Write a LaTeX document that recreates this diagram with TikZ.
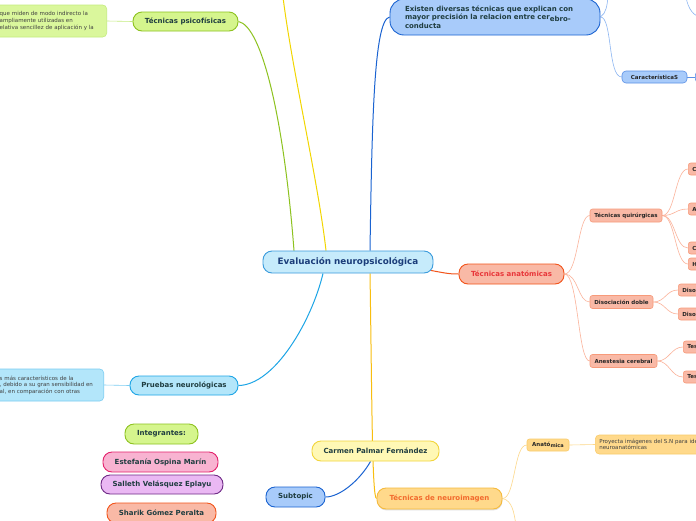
\documentclass[tikz,border=0pt]{standalone}
\usepackage{fontspec}
\setmainfont{DejaVu Sans}
\usetikzlibrary{shadows,backgrounds}
\definecolor{txt}{HTML}{1F3D40}
\definecolor{cenfill}{HTML}{C6EBFB}
\definecolor{cenline}{HTML}{3A9BDC}
\definecolor{centxt}{HTML}{1B3D7A}
\definecolor{limefill}{HTML}{D5F58D}
\definecolor{limeline}{HTML}{8DC21F}
\definecolor{limenote}{HTML}{DAF79C}
\definecolor{limenoteline}{HTML}{C4EC7E}
\definecolor{cyanfill}{HTML}{B3E6FA}
\definecolor{cyanline}{HTML}{1DA5E6}
\definecolor{cyannoteline}{HTML}{7BCDF2}
\definecolor{bluefill}{HTML}{A8CBFA}
\definecolor{blueline}{HTML}{1A63D1}
\definecolor{bluesubline}{HTML}{5A90E6}
\definecolor{bluetwig}{HTML}{8DB6F2}
\definecolor{salmfill}{HTML}{F9B9A6}
\definecolor{redline}{HTML}{F2541B}
\definecolor{redtxt}{HTML}{E8363A}
\definecolor{salmline}{HTML}{F79A7A}
\definecolor{salmtwig}{HTML}{FBB39B}
\definecolor{yelfill}{HTML}{FFF8B5}
\definecolor{yelline}{HTML}{F2D53C}
\definecolor{yelbranch}{HTML}{F2D600}
\definecolor{orfill}{HTML}{FFD98B}
\definecolor{orline}{HTML}{F5BA3D}
\definecolor{ortxt}{HTML}{F26A2D}
\definecolor{orbranch}{HTML}{F8BE10}
\definecolor{orsubline}{HTML}{F9CB6A}
\definecolor{ortwig}{HTML}{FDD88A}
\definecolor{pinkfill}{HTML}{F8B3D1}
\definecolor{pinkline}{HTML}{E3216B}
\definecolor{lilacfill}{HTML}{EAB8F3}
\definecolor{lilacline}{HTML}{6F2A86}
\begin{document}
\begin{tikzpicture}[x=1pt, y=-1pt,
  every node/.style={text=txt},
  topic/.style={draw, line width=0.9pt, rounded corners=9pt, minimum height=19pt, inner sep=0pt, font=\fontsize{7}{8.6}\selectfont\bfseries},
  subtopic/.style={draw, line width=0.6pt, rounded corners=2.5pt, minimum height=13pt, inner xsep=4pt, inner ysep=0pt, font=\fontsize{5.5}{6.5}\selectfont\bfseries, text=black!85},
  leaf/.style={subtopic, anchor=west, text width=30pt, align=left, minimum height=12pt},
  note/.style={draw, line width=0.6pt, rounded corners=4pt, inner xsep=4pt, inner ysep=0pt, align=left, font=\fontsize{5.5}{6.6}\selectfont, text=black!75},
  branch/.style={line width=1pt},
  twig/.style={line width=0.6pt}]
\useasboundingbox (0,0) rectangle (696,520);

\node[topic, fill=cenfill, draw=cenline, text=centxt, minimum width=170pt, minimum height=22pt, font=\fontsize{8.8}{10}\selectfont\bfseries] (eval) at (348,262) {Evaluación neuropsicológica};

\node[topic, fill=limefill, draw=limeline, minimum width=105pt] (psico) at (185.5,21.5) {Técnicas psicofísicas};
\node[note, fill=limenote, draw=limenoteline, text width=103pt, minimum height=32pt, anchor=east] (psicotxt) at (107,21) {que miden de modo indirecto la\\ampliamente utilizadas en\\elativa sencillez de aplicación y la};

\node[topic, fill=cyanfill, draw=cyanline, minimum width=108pt] (pruebas) at (184,385.5) {Pruebas neurológicas};
\node[note, fill=cyanfill, draw=cyannoteline, text width=100pt, minimum height=32pt, anchor=east] (pruebastxt) at (104,385) {s más característicos de la\\, debido a su gran sensibilidad en\\al, en comparación con otras};

\node[topic, fill=bluefill, draw=blueline, minimum width=210pt, minimum height=36pt, rounded corners=14pt, align=left, text width=180pt] (existen) at (495,17) {Existen diversas técnicas que explican con\\mayor precisión la relacion entre cer\raisebox{-1.5pt}{ebro-}\\conducta};
\node[subtopic, fill=bluefill, draw=bluesubline, minimum width=65pt, minimum height=12pt, rounded corners=4pt] (caract) at (654.5,77) {CaracterísticaS};
\node[subtopic, fill=bluefill, draw=bluesubline, minimum width=30pt, minimum height=12pt, rounded corners=4pt, anchor=west] (caractnext) at (695,77) {};

\node[topic, fill=salmfill, draw=redline, text=redtxt, minimum width=105pt, minimum height=20pt] (anat) at (511.5,274) {Técnicas anatómicas};
\node[subtopic, fill=salmfill, draw=salmline, minimum width=72pt] (quir) at (626,215.5) {Técnicas quirúrgicas};
\node[subtopic, fill=salmfill, draw=salmline, minimum width=63pt] (disoc) at (621.5,302) {Disociación doble};
\node[subtopic, fill=salmfill, draw=salmline, minimum width=67pt] (anest) at (623.5,361) {Anestesia cerebral};
\foreach \y/\t/\n in {169/C/q1, 209/A/q2, 248/C/q3, 264/H/q4}
  \node[leaf, fill=salmfill, draw=salmline] (\n) at (688,\y) {\t};
\foreach \y/\n in {290/d1, 314/d2}
  \node[leaf, fill=salmfill, draw=salmline] (\n) at (678,\y) {Diso};
\foreach \y/\n in {347/a1, 377/a2}
  \node[leaf, fill=salmfill, draw=salmline] (\n) at (683,\y) {Tes};

\node[topic, fill=yelfill, draw=yelline, minimum width=127pt, minimum height=20pt] (carmen) at (375.5,451) {Carmen Palmar Fernández};
\node[topic, fill=bluefill, draw=blueline, minimum width=59pt, minimum height=20pt] (subt) at (295.5,497) {Subtopic};
\node[topic, fill=orfill, draw=orline, text=ortxt, minimum width=125pt, minimum height=21pt, drop shadow={shadow xshift=0.4pt, shadow yshift=-1.4pt, opacity=0.25}] (neuro) at (439.5,498.5) {Técnicas de neuroimagen};
\node[subtopic, fill=orfill, draw=orsubline, minimum width=42pt, minimum height=12pt] (anatomica) at (548,445) {Anató\raisebox{-1.2pt}{\fontsize{5}{5}\selectfont mica}};
\node[note, fill=orfill, draw=orsubline, text width=120pt, minimum height=19pt, anchor=west] (proyecta) at (595,444.5) {Proyecta imágenes del S.N para ide\\neuroanatómicas};

\node[topic, fill=limefill, draw=limeline, minimum width=73pt, minimum height=20pt] (integr) at (161.5,434) {Integrantes:};
\node[topic, fill=pinkfill, draw=pinkline, minimum width=115pt, minimum height=20pt] (estef) at (160.5,462) {Estefanía Ospina Marín};
\node[topic, fill=lilacfill, draw=lilacline, minimum width=122pt, minimum height=19pt] (salleth) at (162,484.5) {Salleth Velásquez Eplayu};
\node[topic, fill=salmfill, draw=redline, minimum width=109pt, minimum height=20pt] (sharik) at (161.5,513) {Sharik Gómez Peralta};

\coordinate (yeltop) at (283,-3);
\coordinate (existup) at (608,-3);
\coordinate (tr1) at (686,-3);
\coordinate (tr2) at (702,17);
\coordinate (neurodown) at (516,525);

\begin{scope}[on background layer]
\fill[white] (0,0) rectangle (696,520);
\draw[branch, yelbranch] (yeltop) .. controls (292,70) and (318,180) .. ([xshift=-22pt]eval.north);
\draw[branch, limeline] (psico.east) .. controls (262,26) and (284,120) .. ([xshift=-54pt]eval.north);
\draw[branch, blueline] ([xshift=22pt]eval.north) .. controls (372,120) and (374,20) .. (existen.west);
\draw[branch, cyanline] ([xshift=-25pt]eval.south) .. controls (312,320) and (275,385) .. (pruebas.east);
\draw[branch, redline] ([shift={(-8,-4)}]eval.south east) .. controls (445,273) and (448,274) .. (anat.west);
\draw[branch, orbranch] ([xshift=22pt]eval.south) .. controls (372,400) and (372,498) .. (neuro.west);
\draw[branch, blueline] ([xshift=-5pt]carmen.south) .. controls (360,480) and (340,497) .. (subt.east);
\draw[twig, limenoteline] (psicotxt.east) -- (psico.west);
\draw[twig, cyannoteline] (pruebastxt.east) -- (pruebas.west);
\draw[twig, bluetwig] (existen.east) .. controls +(6,-4) and +(-1,8) .. (existup);
\draw[twig, bluetwig] (existen.east) .. controls +(12,0) and +(-14,0) .. (caract.west);
\draw[twig, bluesubline] (caract.east) -- (caractnext.west);
\draw[twig, bluetwig] (tr1) .. controls +(2,12) and +(-8,0) .. (tr2);
\foreach \n in {quir, disoc, anest}
  \draw[twig, salmtwig] (anat.east) .. controls +(14,0) and +(-12,0) .. (\n.west);
\foreach \n in {q1, q2, q3, q4}
  \draw[twig, salmtwig] (quir.east) .. controls +(13,0) and +(-13,0) .. (\n.west);
\foreach \n in {d1, d2}
  \draw[twig, salmtwig] (disoc.east) .. controls +(12,0) and +(-12,0) .. (\n.west);
\foreach \n in {a1, a2}
  \draw[twig, salmtwig] (anest.east) .. controls +(12,0) and +(-12,0) .. (\n.west);
\draw[twig, ortwig] (neuro.east) .. controls +(13,0) and +(-13,0) .. (anatomica.west);
\draw[twig, ortwig] (neuro.east) .. controls +(10,2) and +(-2,-12) .. (neurodown);
\draw[twig, ortwig] (anatomica.east) -- (proyecta.west);
\end{scope}
\end{tikzpicture}
\end{document}
